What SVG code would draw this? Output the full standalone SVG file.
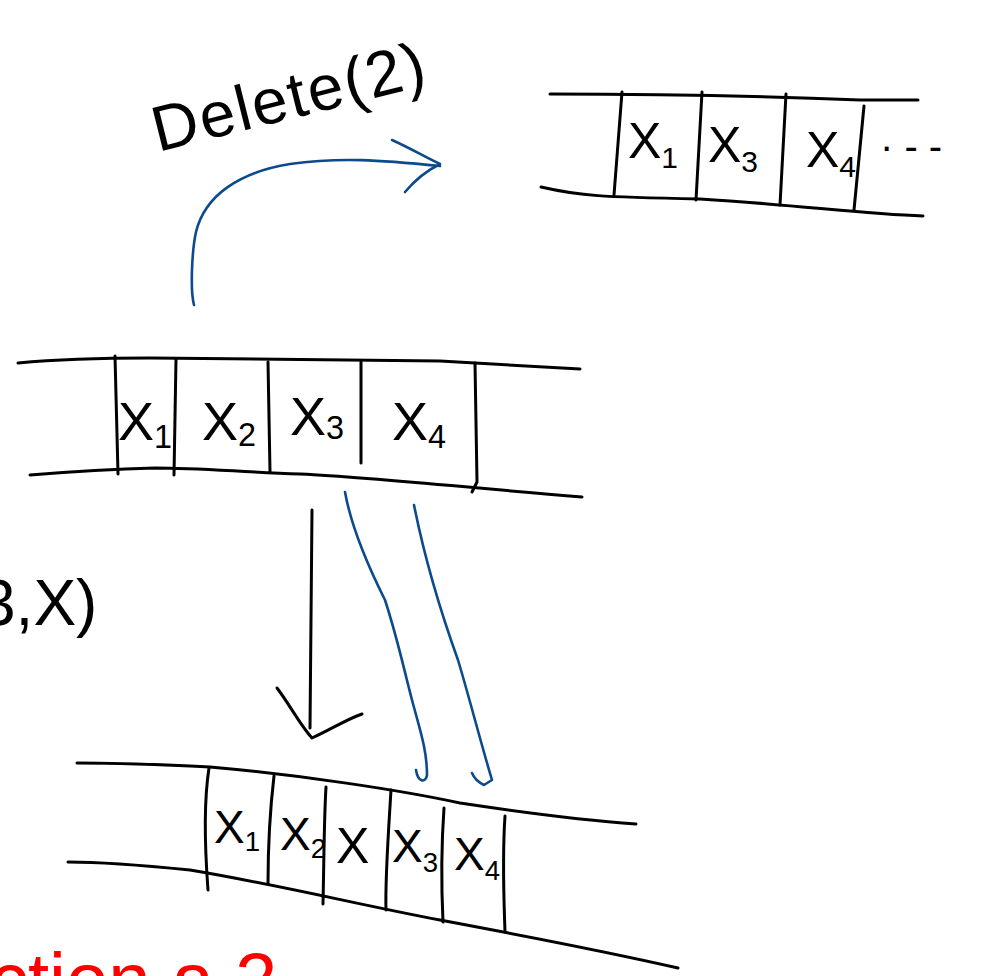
<svg xmlns="http://www.w3.org/2000/svg" width="990" height="976" viewBox="0 0 990 976">
<style>
.ink{fill:none;stroke:#000;stroke-width:3;stroke-linecap:round;stroke-linejoin:round}
.blue{fill:none;stroke:#0b4a8b;stroke-width:2.6;stroke-linecap:round;stroke-linejoin:round}
.lbl{font-family:"Liberation Sans","DejaVu Sans",sans-serif;fill:#000}
.sub{font-size:0.6em}
</style>
<rect width="990" height="976" fill="#fff"/>

<g id="label-delete">
<text class="lbl" x="158" y="152" font-size="64" transform="rotate(-14 158 152)" letter-spacing="2">Delete(2)</text>
</g>

<g id="label-insert">
<text class="lbl" x="-20" y="625" font-size="64">3,X)</text>
</g>

<g id="label-red">
<text x="-10" y="1006" font-family="Liberation Sans, sans-serif" font-size="76" fill="#ff0000">ction a 2</text>
</g>

<g id="array-top">
<path class="ink" d="M550 94 C650 94 760 96 860 100 L918 100"/>
<path class="ink" d="M541 187 C580 196 600 197 700 199 C800 205 860 214 923 216"/>
<path class="ink" d="M622 92 L614 195"/>
<path class="ink" d="M702 92 L696 200"/>
<path class="ink" d="M786 94 L780 205"/>
<path class="ink" d="M864 106 L854 210"/>
<text class="lbl" x="628" y="158" font-size="50">X<tspan class="sub" dy="10">1</tspan></text>
<text class="lbl" x="708" y="162" font-size="50">X<tspan class="sub" dy="10">3</tspan></text>
<text class="lbl" x="806" y="167" font-size="50">X<tspan class="sub" dy="10">4</tspan></text>
<text class="lbl" x="880" y="160" font-size="40">· - -</text>
</g>

<g id="array-middle">
<path class="ink" d="M18 363 C50 360 80 358 150 358 L440 361 C500 364 540 367 580 369"/>
<path class="ink" d="M30 475 C80 471 120 469 155 468 C200 468 240 472 300 474 C380 478 460 487 582 497"/>
<path class="ink" d="M115 356 L118 474"/>
<path class="ink" d="M176 359 L174 475"/>
<path class="ink" d="M268 362 L270 472"/>
<path class="ink" d="M361 362 L361 463"/>
<path class="ink" d="M475 363 L477 482 L472 492"/>
<text class="lbl" x="118" y="440" font-size="54">X<tspan class="sub" dy="8">1</tspan></text>
<text class="lbl" x="202" y="440" font-size="54">X<tspan class="sub" dy="6">2</tspan></text>
<text class="lbl" x="290" y="435" font-size="54">X<tspan class="sub" dy="4">3</tspan></text>
<text class="lbl" x="392" y="440" font-size="54">X<tspan class="sub" dy="8">4</tspan></text>
</g>

<g id="array-bottom">
<path class="ink" d="M77 763 C120 763 170 765 210 767 C300 775 400 790 460 803 C520 812 580 820 636 824"/>
<path class="ink" d="M68 862 C100 862 130 864 190 870 C280 885 360 905 440 920 C520 935 600 950 678 968"/>
<path class="ink" d="M209 768 C204 800 205 850 208 890"/>
<path class="ink" d="M274 776 C270 810 268 850 268 884"/>
<path class="ink" d="M326 787 C324 820 324 860 323 904"/>
<path class="ink" d="M391 790 C388 840 385 880 386 910"/>
<path class="ink" d="M444 808 C441 850 441 880 443 922"/>
<path class="ink" d="M505 816 C502 860 504 900 505 932"/>
<text class="lbl" x="214" y="843" font-size="46">X<tspan class="sub" dy="8">1</tspan></text>
<text class="lbl" x="280" y="850" font-size="46">X<tspan class="sub" dy="8">2</tspan></text>
<text class="lbl" x="336" y="863" font-size="50">X</text>
<text class="lbl" x="392" y="862" font-size="46">X<tspan class="sub" dy="10">3</tspan></text>
<text class="lbl" x="454" y="870" font-size="46">X<tspan class="sub" dy="10">4</tspan></text>
</g>

<g id="connectors">
<path class="blue" d="M194 305 C190 290 192 250 196 232 C205 195 240 172 290 164 C340 157 380 160 440 166"/>
<path class="blue" d="M392 140 C410 148 425 157 440 164 C428 170 415 180 405 192"/>
<path class="blue" d="M345 492 C350 520 365 560 385 600 C398 640 404 670 412 700 C420 730 427 750 427 775 C426 783 418 783 416 770"/>
<path class="blue" d="M414 505 C425 560 440 610 458 660 C470 700 480 740 492 780 L484 785 C478 782 474 778 472 773"/>
<path class="ink" d="M312 510 L310 728"/>
<path class="ink" d="M277 688 C290 705 300 725 312 738 C330 730 345 720 362 714"/>
</g>
</svg>
